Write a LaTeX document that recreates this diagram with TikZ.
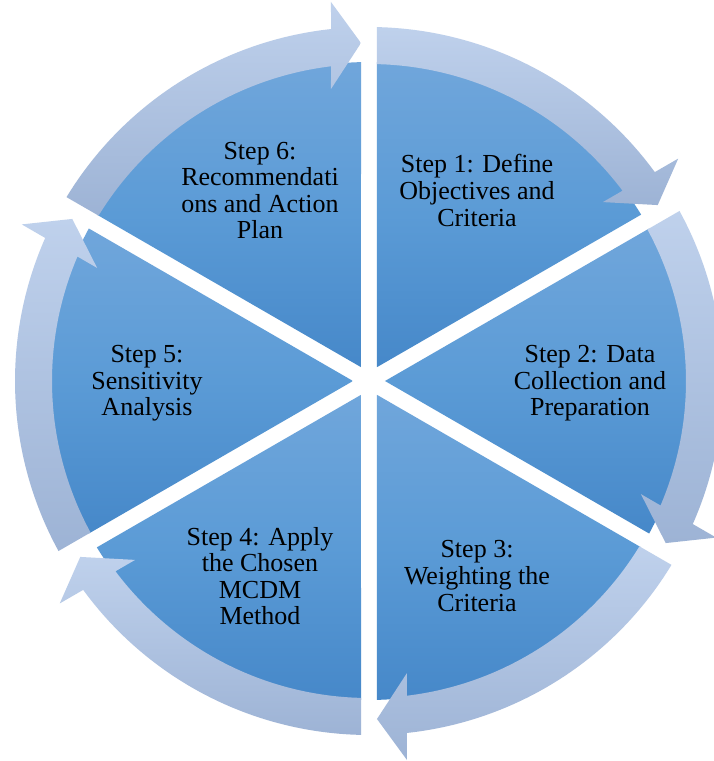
\documentclass[tikz,border=0pt]{standalone}
\usepackage{fontspec}
\setmainfont{Liberation Serif}
\usetikzlibrary{calc}
\definecolor{pieTop}{HTML}{70A6DB}
\definecolor{pieMid}{HTML}{5B9BD6}
\definecolor{pieBot}{HTML}{4688C9}
\definecolor{ringTop}{HTML}{BFD1EC}
\definecolor{ringBot}{HTML}{9DB3D5}
\begin{document}
\begin{tikzpicture}[x=0.75pt,y=0.75pt,
  wedge/.style={top color=pieTop, bottom color=pieBot, middle color=pieMid},
  ringarrow/.style={top color=ringTop, bottom color=ringBot},
  steplabel/.style={align=center, inner sep=0pt, text=black,
    font=\fontsize{19.5pt}{19.9pt}\selectfont}]
% canvas
\clip (-369,-380) rectangle (345,381);
\fill[white] (-369,-380) rectangle (345,381);
% six pie segments separated by gaps of constant width
\foreach \a in {30,-30,-90,-150,150,90}{
  \pgfmathsetmacro\wm{\a+30}
  \pgfmathsetmacro\ws{\a+1.437}
  \pgfmathsetmacro\we{\a+60-1.437}
  \path[wedge] (\wm:16) -- (\ws:319) arc[start angle=\ws, end angle=\we, radius=319] -- cycle;
}
% outer ring: one curved arrow per segment, running clockwise
\foreach \a in {30,-30,-90,-150,150,90}{
  \pgfmathsetmacro\rso{\a+60-1.295}
  \pgfmathsetmacro\reo{\a+6.163}
  \pgfmathsetmacro\rei{\a+6.885}
  \pgfmathsetmacro\rsi{\a+60-1.446}
  \pgfmathsetmacro\an{\a+90}
  \path[ringarrow] (\rso:354) arc[start angle=\rso, end angle=\reo, radius=354]
    -- ($(\a:379)+(\an:38)$) -- ($(\a:338)+(\an:8)$) -- ($(\a:292)+(\an:38)$)
    -- (\rei:317) arc[start angle=\rei, end angle=\rsi, radius=317] -- cycle;
}
% labels
\node[steplabel] (s1) at (108,190.5) {Step 1: Define\\Objectives and\\Criteria};
\node[steplabel] (s2) at (221,-2.5) {Step 2: Data\\Collection and\\Preparation};
\node[steplabel] (s3) at (108,-195) {Step 3:\\Weighting the\\Criteria};
\node[steplabel] (s4) at (-109,-195) {Step 4: Apply\\the Chosen\\MCDM\\Method};
\node[steplabel] (s5) at (-222,-2.5) {Step 5:\\Sensitivity\\Analysis};
\node[steplabel] (s6) at (-109,190.5) {Step 6:\\Recommendati\\ons and Action\\Plan};
\end{tikzpicture}
\end{document}
